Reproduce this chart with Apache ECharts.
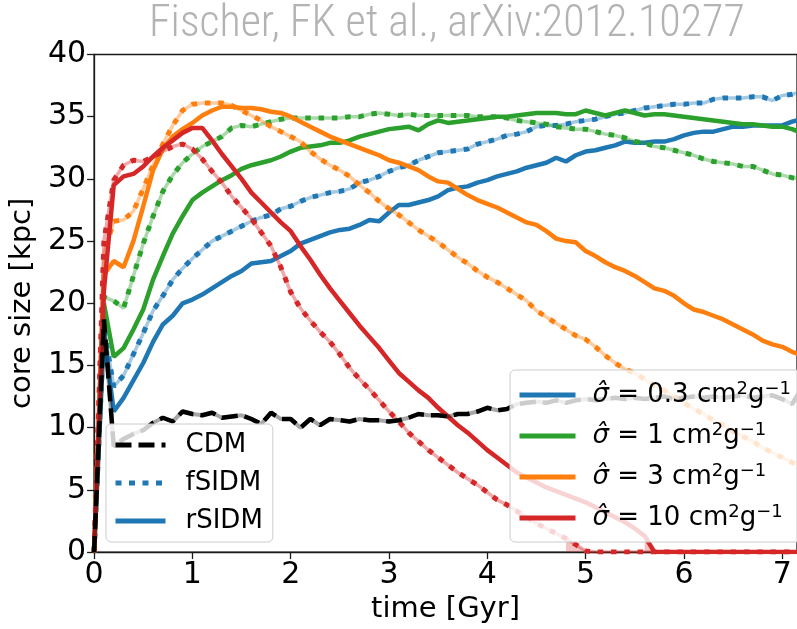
<!DOCTYPE html>
<html>
<head>
<meta charset="utf-8">
<script src="https://cdn.jsdelivr.net/npm/echarts@6/dist/echarts.min.js"></script>
<style>
  html, body { margin: 0; padding: 0; background: #ffffff; }
  #chart { width: 797px; height: 629px; }
</style>
</head>
<body>
<div id="chart"></div>
<script>
// Simulation time in Gyr
const time = [
  0.0, 0.1, 0.2, 0.3, 0.4, 0.5, 0.6, 0.7, 0.8, 0.9,
  1.0, 1.1, 1.2, 1.3, 1.4, 1.5, 1.6, 1.7, 1.8, 1.9,
  2.0, 2.1, 2.2, 2.3, 2.4, 2.5, 2.6, 2.7, 2.8, 2.9,
  3.0, 3.1, 3.2, 3.3, 3.4, 3.5, 3.6, 3.7, 3.8, 3.9,
  4.0, 4.1, 4.2, 4.3, 4.4, 4.5, 4.6, 4.7, 4.8, 4.9,
  5.0, 5.1, 5.2, 5.3, 5.4, 5.5, 5.6, 5.7, 5.8, 5.9,
  6.0, 6.1, 6.2, 6.3, 6.4, 6.5, 6.6, 6.7, 6.8, 6.9,
  7.0, 7.1, 7.2
];

// Core size [kpc] — collisionless dark matter
const cdm = [
  0, 18.7, 8.5, 9.1, 9.5, 9.8, 10.4, 10.8, 10.5, 11.3,
  11.1, 11.0, 11.2, 10.8, 10.9, 11.0, 10.7, 10.3, 11.2, 10.7,
  10.7, 10.0, 10.7, 10.2, 10.7, 10.6, 10.5, 10.7, 10.6, 10.6,
  10.5, 10.6, 10.8, 11.1, 11.0, 11.0, 10.9, 11.1, 11.1, 11.3,
  11.6, 11.4, 11.5, 11.9, 12.0, 12.1, 12.0, 12.2, 12.0, 12.2,
  12.3, 12.2, 12.3, 12.4, 12.3, 12.4, 12.3, 12.4, 12.5, 12.3,
  12.4, 12.5, 12.4, 12.5, 12.4, 12.5, 12.6, 12.4, 12.5, 12.6,
  12.3, 11.9, 13.2
];

// sigma = 0.3 cm^2/g
const fsidm03 = [
  0, 18.0, 13.3, 14.2, 15.9, 17.6, 19.4, 20.6, 21.9, 22.8,
  23.6, 24.3, 25.0, 25.4, 25.8, 26.2, 26.6, 26.9, 27.1, 27.6,
  27.8, 28.2, 28.5, 28.7, 28.9, 29.0, 29.2, 29.7, 29.9, 30.2,
  30.6, 30.9, 31.1, 31.5, 31.8, 32.1, 32.2, 32.3, 32.4, 32.8,
  33.0, 33.2, 33.5, 33.6, 33.8, 34.2, 34.3, 34.3, 34.4, 34.6,
  34.7, 34.8, 35.0, 35.2, 35.3, 35.5, 35.7, 35.8, 35.9, 36.0,
  36.0, 36.1, 36.1, 36.4, 36.5, 36.5, 36.5, 36.6, 36.6, 36.3,
  36.7, 36.8, 37.0
];
const rsidm03 = [
  0, 17.5, 11.3, 12.4, 13.8, 15.2, 16.9, 18.3, 19.0, 20.0,
  20.3, 20.7, 21.2, 21.7, 22.2, 22.6, 23.2, 23.3, 23.4, 23.8,
  24.2, 24.8, 25.1, 25.4, 25.7, 25.9, 26.0, 26.3, 26.7, 26.6,
  27.3, 27.9, 27.9, 28.1, 28.3, 28.6, 29.1, 29.3, 29.4, 29.7,
  29.9, 30.2, 30.4, 30.6, 30.9, 31.1, 31.3, 31.7, 31.4, 31.9,
  32.2, 32.3, 32.5, 32.7, 33.0, 32.9, 32.9, 33.0, 33.0, 33.2,
  33.5, 33.7, 33.8, 33.8, 34.0, 34.2, 34.2, 34.3, 34.3, 34.3,
  34.3, 34.6, 34.8
];

// sigma = 1 cm^2/g
const fsidm1 = [
  0, 20.5, 20.2, 19.6, 22.2, 24.8, 27.0, 29.0, 30.3, 31.3,
  32.0, 32.6, 33.0, 33.4, 34.1, 34.3, 34.2, 34.4, 34.6, 34.8,
  34.9, 34.9, 34.9, 34.9, 34.9, 34.9, 35.0, 35.0, 35.2, 35.3,
  35.2, 35.1, 35.2, 35.1, 35.1, 35.1, 35.1, 35.1, 35.1, 35.0,
  35.0, 35.0, 34.9, 34.7, 34.6, 34.5, 34.4, 34.2, 34.1, 34.0,
  34.0, 33.8, 33.6, 33.5, 33.3, 33.0, 32.9, 32.6, 32.5, 32.3,
  32.1, 31.9, 31.6, 31.4, 31.3, 31.2, 31.0, 31.0, 30.7, 30.4,
  30.3, 30.1, 30.0
];
const rsidm1 = [
  0, 20.0, 15.7, 16.4, 17.9, 19.5, 21.9, 23.8, 25.6, 27.0,
  28.3, 28.9, 29.4, 29.9, 30.3, 30.8, 31.1, 31.3, 31.5, 31.8,
  32.2, 32.5, 32.6, 32.7, 32.9, 32.9, 33.1, 33.4, 33.6, 33.8,
  34.0, 34.1, 34.2, 33.9, 34.4, 34.7, 34.5, 34.6, 34.7, 34.8,
  34.9, 35.0, 35.0, 35.1, 35.2, 35.3, 35.3, 35.3, 35.2, 35.2,
  35.5, 35.3, 35.1, 35.3, 35.5, 35.3, 35.1, 35.2, 35.2, 35.1,
  35.0, 34.9, 34.8, 34.7, 34.6, 34.5, 34.4, 34.4, 34.3, 34.2,
  34.2, 34.0, 33.7
];

// sigma = 3 cm^2/g
const fsidm3 = [
  0, 24.0, 26.6, 26.7, 27.4, 29.2, 31.1, 32.8, 34.3, 35.5,
  36.0, 36.1, 36.1, 36.1, 35.9, 35.5, 35.1, 34.7, 34.2, 33.8,
  33.4, 33.0, 32.2, 31.6, 31.1, 30.7, 30.2, 29.5, 28.9, 28.2,
  27.6, 27.1, 26.5, 25.9, 25.4, 24.9, 24.3, 23.7, 23.2, 22.6,
  22.1, 21.7, 21.2, 20.7, 20.2, 19.4, 18.9, 18.4, 17.9, 17.4,
  17.1, 16.5, 15.8, 15.2, 14.7, 14.4, 13.9, 13.4, 13.0, 12.5,
  12.0, 11.5, 11.1, 10.6, 10.2, 9.7, 9.3, 8.9, 8.4, 8.0,
  7.6, 7.2, 6.8
];
const rsidm3 = [
  0, 22.3, 23.4, 22.9, 25.0, 27.8, 30.7, 32.4, 33.4, 34.0,
  34.5, 35.1, 35.5, 35.8, 35.8, 35.7, 35.7, 35.6, 35.4, 35.3,
  35.0, 34.6, 34.2, 33.8, 33.4, 33.1, 32.8, 32.5, 32.2, 31.9,
  31.5, 31.3, 31.0, 30.7, 30.2, 29.8, 29.7, 29.2, 28.7, 28.3,
  28.0, 27.7, 27.3, 26.9, 26.5, 26.3, 25.8, 25.2, 25.0, 24.9,
  24.2, 23.8, 23.3, 22.9, 22.6, 22.2, 21.7, 21.2, 21.0, 20.6,
  20.0, 19.5, 19.3, 19.0, 18.7, 18.3, 17.9, 17.5, 17.0, 16.7,
  16.5, 16.1, 15.8
];

// sigma = 10 cm^2/g
const fsidm10 = [
  0, 25.0, 29.9, 31.1, 31.5, 31.4, 31.8, 32.2, 32.6, 32.8,
  32.4, 31.6, 30.6, 29.7, 28.6, 27.7, 26.8, 25.7, 24.6, 22.9,
  20.9, 19.6, 18.6, 17.7, 16.9, 15.9, 14.8, 13.9, 13.1, 12.2,
  11.3, 10.5, 9.6, 8.9, 8.2, 7.6, 7.0, 6.4, 5.9, 5.4,
  4.8, 4.2, 3.8, 3.3, 2.8, 2.3, 1.9, 1.5, 1.1, 0.6,
  0.1, 0, 0, 0, 0, 0, 0, 0, 0, 0,
  0, 0, 0, 0, 0, 0, 0, 0, 0, 0,
  0, 0, 0
];
const rsidm10 = [
  0, 21.0, 29.5, 30.2, 30.4, 31.0, 31.8, 32.5, 33.1, 33.7,
  34.1, 34.1, 33.1, 32.0, 31.0, 30.0, 28.9, 28.1, 27.3, 26.5,
  25.8, 24.6, 23.5, 22.3, 21.2, 20.2, 19.2, 18.2, 17.3, 16.4,
  15.4, 14.4, 13.7, 13.0, 12.4, 11.6, 10.9, 10.2, 9.6, 8.9,
  8.2, 7.6, 7.0, 6.4, 6.0, 5.6, 5.2, 4.9, 4.6, 4.3,
  4.0, 3.6, 3.2, 2.8, 2.4, 1.9, 1.3, 0, 0, 0,
  0, 0, 0, 0, 0, 0, 0, 0, 0, 0,
  0, 0, 0
];

const xTicks = [0, 1, 2, 3, 4, 5, 6, 7];
const yTicks = [0, 5, 10, 15, 20, 25, 30, 35, 40];

const sigmaLabels = [
  'σ̂ = 0.3 cm²g⁻¹',
  'σ̂ = 1 cm²g⁻¹',
  'σ̂ = 3 cm²g⁻¹',
  'σ̂ = 10 cm²g⁻¹'
];
const colors = ['#1f77b4', '#2ca02c', '#ff7f0e', '#d62728'];

const FONT = '"DejaVu Sans", sans-serif';

function pairs(values) {
  return time.map((t, i) => [t, values[i]]);
}

function fade(hex, a) {
  const n = parseInt(hex.slice(1), 16);
  return 'rgba(' + ((n >> 16) & 255) + ',' + ((n >> 8) & 255) + ',' + (n & 255) + ',' + a + ')';
}

const series = [];

// frictional SIDM: faint underlying trace with a dotted overlay
function addDotted(values, color, z) {
  series.push({
    type: 'line', name: '_f_base_' + z, data: pairs(values),
    symbol: 'none', silent: true, z: z,
    lineStyle: { color: fade(color, 0.4), width: 3.5 }
  });
  series.push({
    type: 'line', name: '_f_dot_' + z, data: pairs(values),
    symbol: 'none', silent: true, z: z,
    lineStyle: { color: color, width: 5, type: [5.5, 7.8], cap: 'butt' }
  });
}

// rare SIDM: thick solid line, named after its cross-section
function addSolid(values, color, name, z) {
  series.push({
    type: 'line', name: name, data: pairs(values),
    symbol: 'none', silent: true, z: z,
    itemStyle: { color: color },
    lineStyle: { color: color, width: 4.5 }
  });
}

// translucent fill under the last drop of a curve to zero
function addDropFill(values, from, to, color, z) {
  series.push({
    type: 'line', name: '_drop_' + from, data: pairs(values).slice(from, to + 1),
    symbol: 'none', silent: true, z: z,
    lineStyle: { width: 0 },
    areaStyle: { color: fade(color, 0.4) }
  });
}

const fData = [fsidm03, fsidm1, fsidm3, fsidm10];
const rData = [rsidm03, rsidm1, rsidm3, rsidm10];
for (let k = 0; k < 4; k++) {
  addDotted(fData[k], colors[k], 2 + k);
  addSolid(rData[k], colors[k], sigmaLabels[k], 2 + k);
}
addDropFill(fsidm10, 48, 50, colors[3], 5);
addDropFill(rsidm10, 56, 57, colors[3], 5);

// CDM: faint trace under a black dashed line
series.push({
  type: 'line', name: '_cdm_base', data: pairs(cdm),
  symbol: 'none', silent: true, z: 7,
  lineStyle: { color: 'rgba(0,0,0,0.35)', width: 4 }
});
series.push({
  type: 'line', name: 'CDM', data: pairs(cdm),
  symbol: 'none', silent: true, z: 7,
  itemStyle: { color: '#000' },
  lineStyle: { color: '#000', width: 4.5, type: [16, 7], cap: 'butt' }
});

// style-only entries for the left legend
series.push({
  type: 'line', name: 'fSIDM', data: [], symbol: 'none',
  itemStyle: { color: colors[0] },
  lineStyle: { color: colors[0], width: 5, type: [6, 7.5], cap: 'butt' }
});
series.push({
  type: 'line', name: 'rSIDM', data: [], symbol: 'none',
  itemStyle: { color: colors[0] },
  lineStyle: { color: colors[0], width: 4.5 }
});

const legendBase = {
  orient: 'vertical',
  backgroundColor: 'rgba(255,255,255,0.8)',
  borderColor: '#cccccc',
  borderWidth: 1,
  borderRadius: 5,
  itemHeight: 14,
  selectedMode: false,
  lineStyle: { width: 5 },
  itemStyle: { opacity: 0, borderWidth: 0 },
  z: 10
};

const option = {
  animation: false,
  backgroundColor: '#ffffff',
  title: {
    text: 'Fischer, FK et al., arXiv:2012.10277',
    left: 149, top: 3, padding: 0,
    textStyle: {
      fontFamily: '"Liberation Sans Narrow", "Roboto Condensed", "Liberation Sans", sans-serif',
      fontSize: 44, fontWeight: 300, color: '#b3b3b3'
    }
  },
  grid: {
    left: 92.5, top: 54.5, width: 704.5, height: 499.5,
    show: true, borderColor: '#1a1a1a', borderWidth: 1.3,
    backgroundColor: 'transparent'
  },
  xAxis: {
    type: 'value', min: 0, max: 7.15,
    name: 'time [Gyr]', nameLocation: 'middle', nameGap: 40,
    nameTextStyle: { fontFamily: FONT, fontSize: 29, color: '#000' },
    axisLine: { show: true, onZero: false, lineStyle: { color: '#1a1a1a', width: 1.3 } },
    axisTick: { show: true, length: 7, customValues: xTicks, lineStyle: { color: '#1a1a1a', width: 1.3 } },
    axisLabel: { customValues: xTicks, margin: 8, fontFamily: FONT, fontSize: 30, color: '#000' },
    splitLine: { show: false }
  },
  yAxis: {
    type: 'value', min: 0, max: 40,
    name: 'core size [kpc]', nameLocation: 'middle', nameGap: 44, nameRotate: 90,
    nameTextStyle: { fontFamily: FONT, fontSize: 29, color: '#000' },
    axisLine: { show: true, onZero: false, lineStyle: { color: '#1a1a1a', width: 1.3 } },
    axisTick: { show: true, length: 7, customValues: yTicks, lineStyle: { color: '#1a1a1a', width: 1.3 } },
    axisLabel: { customValues: yTicks, margin: 8, fontFamily: FONT, fontSize: 30, color: '#000' },
    splitLine: { show: false }
  },
  legend: [
    Object.assign({}, legendBase, {
      data: ['CDM', 'fSIDM', 'rSIDM'],
      left: 106, top: 424,
      padding: [6, 10, 6, 7],
      itemWidth: 50,
      itemGap: 8,
      textStyle: { fontFamily: FONT, fontSize: 26, color: '#000', lineHeight: 30, padding: [0, 0, 0, 15] }
    }),
    Object.assign({}, legendBase, {
      data: sigmaLabels,
      left: 510, top: 370,
      padding: [10, 10, 9, 7],
      itemWidth: 56,
      itemGap: 11,
      formatter: (name) => name
        .replace('σ̂', '{it|σ̂}')
        .replace('²', '{sup|2}')
        .replace('⁻¹', '{sup|−1}'),
      textStyle: {
        fontFamily: FONT, fontSize: 26, color: '#000', lineHeight: 30, padding: [0, 0, 0, 12],
        rich: {
          it: { fontFamily: FONT, fontSize: 26, fontStyle: 'italic', color: '#000', lineHeight: 30 },
          sup: { fontFamily: FONT, fontSize: 18, color: '#000', lineHeight: 18, verticalAlign: 'top' }
        }
      }
    })
  ],
  series: series
};

const chart = echarts.init(document.getElementById('chart'), null, { renderer: 'canvas' });
chart.setOption(option);
</script>
</body>
</html>
